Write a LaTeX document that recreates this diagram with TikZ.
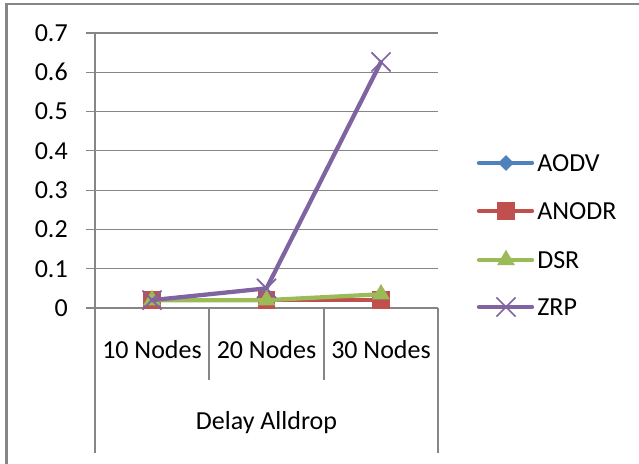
\documentclass[tikz,border=0pt]{standalone}
\usepackage{fontspec}
\setmainfont{Carlito}
\usepackage{xcolor}
\usepackage{tikz}
\usetikzlibrary{
  positioning,
  shapes.geometric,
  shapes.misc
}
\definecolor{aodvblue}{HTML}{4F81BD}
\definecolor{anodrred}{HTML}{C0504D}
\definecolor{dsrgreen}{HTML}{9BBB59}
\definecolor{zrppurple}{HTML}{8064A2}
\definecolor{gridgray}{HTML}{868686}

\begin{document}
\begin{tikzpicture}[
  x=0.75pt, y=-0.75pt,
  lbl/.style={font=\fontsize{19.5}{22}\selectfont, inner sep=0pt},
  grid/.style={draw=gridgray, line width=0.9pt},
  series/.style={line width=3.2pt, line join=round, line cap=round},
  sqmark/.style={rectangle, fill=anodrred, minimum size=13pt, inner sep=0pt},
  dmmark/.style={diamond, fill=aodvblue, minimum size=12pt, inner sep=0pt},
  trmark/.style={regular polygon, regular polygon sides=3, fill=dsrgreen,
                 minimum size=15.5pt, inner sep=0pt},
  xmark/.style={cross out, draw=zrppurple, line width=1.3pt,
                minimum size=13pt, inner sep=0pt}
]
  \useasboundingbox (0,0) rectangle (639,464);
  % outer frame
  \draw[draw=gridgray, line width=1.6pt] (6.5,464) -- (6.5,4) -- (639,4);

  % gridlines and value labels
  \foreach \v [count=\i from 0] in {0,0.1,0.2,0.3,0.4,0.5,0.6,0.7} {
    \draw[grid] (86,308-39.3*\i) -- (438,308-39.3*\i);
    \node[lbl, anchor=east] (tick\i) at (68,308-39.3*\i) {\v};
  }
  \draw[grid] (95,33) -- (95,453);
  \draw[grid] (209,308) -- (209,380);
  \draw[grid] (324,308) -- (324,380);
  \draw[grid] (438,308) -- (438,453);

  % categories
  \node[lbl] (cat1) at (152,350) {10 Nodes};
  \node[lbl] (cat2) at (266.5,350) {20 Nodes};
  \node[lbl] (cat3) at (381,350) {30 Nodes};
  \node[lbl] (group) at (266.5,423) {Delay Alldrop};

  % data points
  \foreach \n/\a/\b/\c in {aodv/0.02/0.02/0.02, anodr/0.02/0.02/0.02,
                           dsr/0.02/0.02/0.035, zrp/0.02/0.05/0.626} {
    \coordinate (\n-1) at (152,308-393*\a);
    \coordinate (\n-2) at (266.5,308-393*\b);
    \coordinate (\n-3) at (381,308-393*\c);
  }

  % series
  \draw[series, aodvblue] (aodv-1) -- (aodv-2) -- (aodv-3);
  \foreach \k in {1,2,3} \node[dmmark] at (aodv-\k) {};
  \draw[series, anodrred] (anodr-1) -- (anodr-2) -- (anodr-3);
  \foreach \k in {1,2,3} \node[sqmark] at (anodr-\k) {};
  \draw[series, dsrgreen] (dsr-1) -- (dsr-2) -- (dsr-3);
  \foreach \k in {1,2,3} \node[trmark] at (dsr-\k) {};
  \draw[series, zrppurple] (zrp-1) -- (zrp-2) -- (zrp-3);
  \foreach \k in {1,2,3} \node[xmark] at (zrp-\k) {};

  % legend
  \foreach \n/\c/\m/\t/\yy in {aodv/aodvblue/dmmark/AODV/163,
                              anodr/anodrred/sqmark/ANODR/211,
                              dsr/dsrgreen/trmark/DSR/260,
                              zrp/zrppurple/xmark/ZRP/307} {
    \coordinate (leg-\n-a) at (479,\yy);
    \coordinate (leg-\n-b) at (532,\yy);
    \draw[series, \c] (leg-\n-a) -- (leg-\n-b);
    \node[\m] at (506,\yy) {};
    \node[lbl, anchor=west] (leg-\n) at (537,\yy) {\t};
  }
\end{tikzpicture}
\end{document}
